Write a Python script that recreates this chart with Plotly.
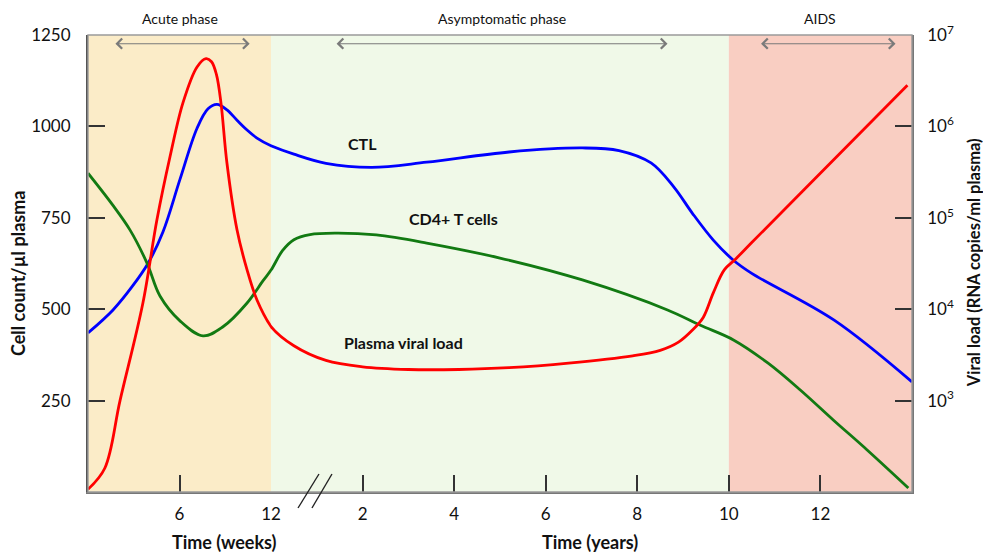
import plotly.graph_objects as go

# ---- time bases -------------------------------------------------------
# acute phase is sampled in weeks, the rest of the course in years
vl_weeks_t = [0, 1.1, 2.1, 3.6, 4.52, 5.38, 6.23, 7.15, 7.74, 8.1, 8.42,
              8.72, 9.11, 9.77, 10.43, 11.08, 12.0, 12.6]
vl_years_t = [-0.3, 0, 0.5, 1.2, 2.0, 3.0, 4.1, 5.2, 6.5, 7.9, 8.5, 8.9,
              9.2, 9.44, 9.66, 9.9, 10.15, 10.5, 12.3, 13.9]

# plasma viral load (RNA copies / ml plasma)
vl_weeks = [107, 182, 1000, 11700, 95000, 468000, 1.82e6, 4.47e6, 5.5e6,
            5.1e6, 3.7e6, 1.8e6, 3.98e5, 74100, 26900, 12600, 6460, 5000]
vl_years = [13200, 6460, 3980, 2750, 2340, 2190, 2190, 2290, 2570, 3090,
            3550, 4370, 5890, 8130, 15100, 26900, 35500, 53700, 436000,
            2.82e6]

# CTL count (cells / ul plasma)
ctl_weeks_t = [0, 1.64, 2.95, 3.93, 4.92, 6.03, 7.15, 7.87, 8.46, 9.11,
               9.77, 10.43, 11.08, 12.0, 12.6]
ctl_weeks = [435, 498, 565, 625, 712, 855, 995, 1048, 1060, 1045, 1017,
             990, 968, 947, 937]
ctl_years_t = [-0.3, 0, 0.5, 1.2, 2.2, 3.4, 5.2, 6.8, 7.6, 8.3, 8.8, 9.2,
               9.66, 10.1, 10.5, 12.3, 14.0]
ctl_years = [965, 947, 924, 899, 888, 902, 930, 941, 934, 900, 834, 763,
             689, 634, 598, 470, 301]

# CD4+ T cell count (cells / ul plasma)
cd4_weeks_t = [0, 1.6, 2.75, 3.87, 4.72, 6.03, 7.54, 8.85, 10.43, 11.48,
               12.0, 12.6]
cd4_weeks = [872, 786, 717, 626, 536, 468, 427, 452, 517, 578, 607, 650]
cd4_years_t = [-0.3, 0, 0.25, 0.5, 0.85, 1.4, 2.3, 3.4, 5.0, 6.8, 8.66,
               9.38, 10.1, 10.85, 11.56, 12.28, 13.02, 13.92]
cd4_years = [555, 607, 660, 690, 704, 708, 703, 681, 640, 580, 498, 456,
             416, 353, 279, 197, 115, 11]

week_ticks = [6, 12]
year_ticks = [2, 4, 6, 8, 10, 12]
count_ticks = [250, 500, 750, 1000, 1250]
vl_ticks = [1e3, 1e4, 1e5, 1e6, 1e7]
vl_tick_text = ["10<sup>3</sup>", "10<sup>4</sup>", "10<sup>5</sup>",
                "10<sup>6</sup>", "10<sup>7</sup>"]

phases = ["Acute phase", "Asymptomatic phase", "AIDS"]
curve_labels = ["CTL", "CD4+ T cells", "Plasma viral load"]

RED, BLUE, GREEN = "#FF0000", "#0000FF", "#127A12"
LW = 2.8
FONT = "Lato"
SPLIT = 0.2221  # share of the width given to the weeks scale

fig = go.Figure()


def curve(x, y, xa, ya, color):
    fig.add_trace(go.Scatter(
        x=x, y=y, xaxis=xa, yaxis=ya, mode="lines",
        line=dict(color=color, width=LW, shape="spline", smoothing=1.0),
        hoverinfo="skip", showlegend=False))


curve(vl_weeks_t, vl_weeks, "x", "y2", RED)
curve(vl_years_t, vl_years, "x2", "y2", RED)
curve(ctl_weeks_t, ctl_weeks, "x", "y", BLUE)
curve(ctl_years_t, ctl_years, "x2", "y", BLUE)
curve(cd4_weeks_t, cd4_weeks, "x", "y", GREEN)
curve(cd4_years_t, cd4_years, "x2", "y", GREEN)

# phase background bands
bands = [("x", 0, 12, "#FBECC8"), ("x2", 0, 10, "#F0F9E8"),
         ("x2", 10, 14, "#F9CEC2")]
shapes = []
for xr, a, b, col in bands:
    shapes.append(dict(type="rect", xref=xr, yref="paper", x0=a, x1=b,
                       y0=0, y1=1, fillcolor=col, line_width=0,
                       layer="below"))
# frame around the plotting area
shapes.append(dict(type="rect", xref="paper", yref="paper", x0=0, x1=1,
                   y0=0, y1=1, line=dict(color="#9a9a9a", width=1.4)))
# axis break marks between weeks and years
for x0, x1 in [(0.2549, 0.2803), (0.2718, 0.2961)]:
    shapes.append(dict(type="line", xref="paper", yref="paper", x0=x0,
                       x1=x1, y0=-0.035, y1=0.0394,
                       line=dict(color="#222222", width=1.4)))

annotations = []
# phase titles with double-headed spans
phase_pos = [("x", 6.0, 1.7, 10.6), ("x2", 5.05, 1.4, 8.66),
             ("x2", 12.0, 10.67, 13.64)]
for name, (xr, xc, a, b) in zip(phases, phase_pos):
    annotations.append(dict(text=name, xref=xr, x=xc, yref="paper",
                            y=1.037, yanchor="middle", showarrow=False,
                            font=dict(family=FONT, size=14, color="#111")))
    annotations.append(dict(text="", xref=xr, x=b, axref=xr, ax=a,
                            yref="paper", y=0.981, ayref="pixel", ay=0,
                            showarrow=True, arrowside="end+start",
                            arrowhead=4, startarrowhead=4, arrowsize=1.8,
                            startarrowsize=1.8, arrowwidth=1.1,
                            arrowcolor="#7a7a7a"))

# curve labels
for text, xv, yv in zip(curve_labels, [1.99, 3.98, 2.89], [952, 749, 410]):
    annotations.append(dict(text=f"<b>{text}</b>", xref="x2", x=xv,
                            yref="y", y=yv, showarrow=False,
                            font=dict(family=FONT, size=16, color="#111")))

# axis titles
title_font = dict(family=FONT, size=18, color="#111")
annotations += [
    dict(text="<b>Cell count/µl plasma</b>", xref="paper", yref="paper",
         x=-0.085, y=0.479, xanchor="center", yanchor="middle",
         textangle=-90, showarrow=False, font=title_font),
    dict(text="<b>Viral load (RNA copies/ml plasma)</b>", xref="paper",
         yref="paper", x=1.0755, y=0.501, xanchor="center",
         yanchor="middle", textangle=-90, showarrow=False,
         font=dict(family=FONT, size=16.5, color="#111")),
    dict(text="<b>Time (weeks)</b>", xref="paper", yref="paper", x=0.166,
         y=-0.109, xanchor="center", yanchor="middle", showarrow=False,
         font=title_font),
    dict(text="<b>Time (years)</b>", xref="paper", yref="paper", x=0.609,
         y=-0.109, xanchor="center", yanchor="middle", showarrow=False,
         font=title_font),
]

tick_font = dict(family=FONT, size=17, color="#111")
common = dict(ticks="inside", ticklen=17, tickwidth=1.5, tickcolor="#333",
              showgrid=False, zeroline=False, tickfont=tick_font,
              fixedrange=True)

fig.update_layout(
    width=983, height=553,
    margin=dict(l=88, r=71, t=35, b=61),
    paper_bgcolor="white", plot_bgcolor="rgba(0,0,0,0)",
    shapes=shapes, annotations=annotations,
    xaxis=dict(domain=[0, SPLIT], range=[0, 12], anchor="y",
               tickvals=week_ticks, showline=True, linecolor="#777",
               linewidth=1.5, ticklabelstandoff=6, **common),
    xaxis2=dict(domain=[SPLIT, 1], range=[0, 14], anchor="y",
                tickvals=year_ticks, showline=True, linecolor="#777",
                linewidth=1.5, ticklabelstandoff=6, **common),
    yaxis=dict(range=[0, 1250], anchor="x", tickvals=count_ticks,
               showline=True, linecolor="#555", linewidth=2,
               ticklabelstandoff=12, **common),
    yaxis2=dict(type="log", range=[2, 7], overlaying="y", side="right",
                anchor="x2", tickvals=vl_ticks, ticktext=vl_tick_text,
                showline=True, linecolor="#777", linewidth=1.5,
                ticklabelstandoff=10, **common),
)

fig.write_html("out.html")
